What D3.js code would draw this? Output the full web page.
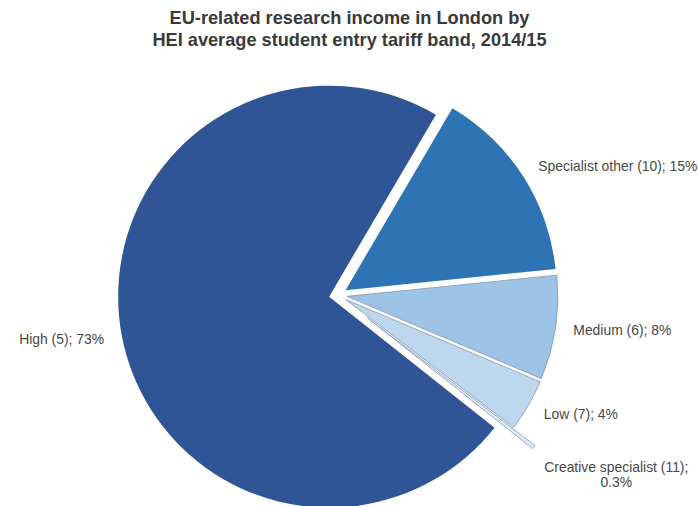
<!DOCTYPE html>
<html>
<head>
<meta charset="utf-8">
<script src="https://cdn.jsdelivr.net/npm/d3@7"></script>
<style>
  html, body { margin: 0; padding: 0; background: #ffffff; }
  svg { display: block; }
</style>
</head>
<body>
<svg id="chart" width="699" height="506"></svg>
<script>
// ---- Data ----
const titleLines = ["EU-related research income in London by", "HEI average student entry tariff band, 2014/15"];
const categories = ["Specialist other (10)", "Medium (6)", "Low (7)", "Creative specialist (11)", "High (5)"];
const shares = [15, 8, 4, 0.3, 73];
const shareLabels = ["15%", "8%", "4%", "0.3%", "73%"];
const sliceColors = ["#2E74B5", "#9DC3E6", "#BDD7EE", "#DEEBF7", "#2F5597"];
const sliceStrokes = ["none", "#8497B0", "#8497B0", "#8497B0", "none"];

// ---- Layout ----
const W = 699, H = 506;
const cx = 338, cy = 295, R = 211, explode = 9, explodeSliver = 37;
const startDeg = 30.4;

const svg = d3.select("#chart");

svg.append("g").selectAll("text").data(titleLines).join("text")
  .attr("x", 349.5)
  .attr("y", (d, i) => 24 + i * 22)
  .attr("text-anchor", "middle")
  .attr("font-family", "Liberation Sans, Arial, sans-serif")
  .attr("font-weight", "bold")
  .attr("font-size", 18.2)
  .attr("fill", "#3a3a3a")
  .text(d => d);

const rows = categories.map((c, i) => ({ cat: c, v: shares[i], lab: shareLabels[i], color: sliceColors[i], stroke: sliceStrokes[i] }));

const pie = d3.pie().sort(null).value(d => d.v)
  .startAngle(startDeg * Math.PI / 180)
  .endAngle(startDeg * Math.PI / 180 + 2 * Math.PI);
const arcs = pie(rows);
const arc = d3.arc().innerRadius(0).outerRadius(R);

const dir = a => [Math.sin(a), -Math.cos(a)];
const isSliver = d => (d.endAngle - d.startAngle) < 0.05;

const g = svg.append("g").attr("transform", `translate(${cx},${cy})`);
g.selectAll("path").data(arcs).join("path")
  .attr("d", arc)
  .attr("transform", d => {
    const m = (d.startAngle + d.endAngle) / 2;
    const [ux, uy] = dir(m);
    const e = isSliver(d) ? explodeSliver : explode;
    return `translate(${ux * e},${uy * e})`;
  })
  .attr("fill", d => d.data.color)
  .attr("stroke", d => d.data.stroke)
  .attr("stroke-width", 0.8);

// ---- Labels ----
const lg = svg.append("g")
  .attr("font-family", "Liberation Sans, Arial, sans-serif")
  .attr("font-size", 13.9)
  .attr("fill", "#474747");

arcs.forEach(d => {
  const m = (d.startAngle + d.endAngle) / 2;
  const [ux, uy] = dir(m);
  if (!isSliver(d)) {
    const dist = R + 27;
    const x = cx + ux * dist, y = cy + uy * dist;
    lg.append("text")
      .attr("x", x).attr("y", y)
      .attr("dy", "0.35em")
      .attr("text-anchor", ux < 0 ? "end" : "start")
      .text(`${d.data.cat}; ${d.data.lab}`);
  } else {
    const dist = R + 54;
    const x = cx + ux * dist - 3, y = cy + uy * dist + 3;
    const t = lg.append("text");
    const l1 = t.append("tspan").attr("x", x).attr("y", y + 11).text(`${d.data.cat};`);
    const w1 = l1.node().getComputedTextLength();
    t.append("tspan").attr("x", x + w1 / 2).attr("y", y + 26)
      .attr("text-anchor", "middle").text(d.data.lab);
  }
});
</script>
</body>
</html>
